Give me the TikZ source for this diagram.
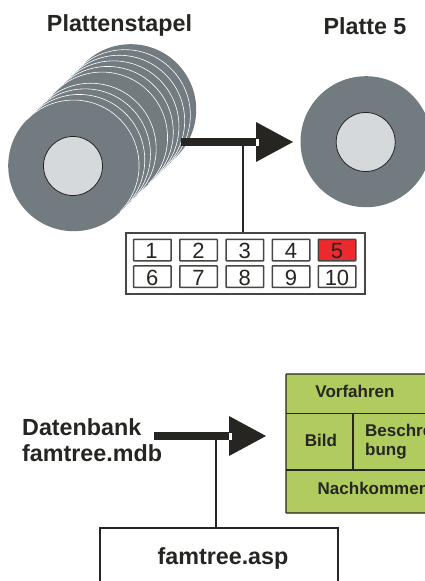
\documentclass[tikz,border=0pt]{standalone}
\usepackage{fontspec}
\setmainfont{Liberation Sans}
\definecolor{ink}{HTML}{262522}
\definecolor{diskgray}{HTML}{727B80}
\definecolor{hubgray}{HTML}{D5D9DB}
\definecolor{cellred}{HTML}{EC2A2E}
\definecolor{panelgreen}{HTML}{B0CB5E}
\tikzset{
  big/.style={font=\fontsize{23.3}{27.5}\selectfont\bfseries,text=ink,inner sep=0pt},
  small/.style={font=\fontsize{17}{19}\selectfont\bfseries,text=ink,inner sep=0pt},
  diskplain/.style={circle,fill=diskgray,minimum size=131pt,inner sep=0pt},
  hub/.style={circle,fill=hubgray,draw=ink,line width=0.8pt,minimum size=59pt,inner sep=0pt},
  cell/.style={draw=ink!85,line width=1.5pt,rounded corners=0.6pt,fill=white,minimum width=37.5pt,minimum height=21.5pt,inner sep=0pt},
  celltext/.style={anchor=base,text=ink,inner sep=0pt,font=\fontsize{22}{22}\selectfont},
  thickbar/.style={line width=8pt,draw=ink},
  thinbar/.style={line width=2pt,draw=ink},
  headfill/.style={fill=ink},
  panel/.style={draw=ink,line width=1.2pt,fill=panelgreen},
  rimline/.style={draw=white,line width=0.6pt}
}
\begin{document}
\begin{tikzpicture}[x=1pt,y=-1pt]
\useasboundingbox (0,0) rectangle (425,581);
\clip (0,0) rectangle (425,581);
% stack of disks
\foreach \i in {10,9,8,7,6,5,3,2,1,0}{
  \node[diskplain] (d\i) at ({73.7+5.7*\i},{165.7-5.6*\i}) {};
  \ifnum\i<10
    \draw[rimline] (d\i.135) arc[start angle=135,end angle=-45,radius=65.5pt];
  \fi
}
\node[hub] (fronthub) at (73,166) {};
\node[big,anchor=base] (t1) at (119.5,31.7) {Plattenstapel};
\node[big,anchor=base] (t2) at (365,34) {Platte 5};
% plate 5
\node[diskplain] (plate) at (366,141.7) {};
\node[hub] (platehub) at (365.7,142) {};
% upper arrow
\coordinate (a1s) at (181,142);
\coordinate (a1e) at (257,142);
\coordinate (a1j) at (243,142);
\draw[thickbar] (a1s) -- (a1e);
\fill[headfill] (256,122) -- (293,142) -- (256,162) -- cycle;
\fill[white] (256,138.5) rectangle (258.5,145.5);
% selector panel
\node[draw=ink!85,line width=1.4pt,fill=white,minimum width=239pt,minimum height=61pt,inner sep=0pt] (sel) at (245.5,263.5) {};
\draw[thinbar] (a1j) -- (a1j |- sel.north);
\node[cell] (c1) at (152.3,250) {};
\node[cell] (c2) at (198.5,250) {};
\node[cell] (c3) at (244.8,250) {};
\node[cell] (c4) at (291,250) {};
\node[cell,fill=cellred] (c5) at (337,250) {};
\node[cell] (c6) at (152.3,276.7) {};
\node[cell] (c7) at (198.5,276.7) {};
\node[cell] (c8) at (244.8,276.7) {};
\node[cell] (c9) at (291,276.7) {};
\node[cell] (c10) at (337,276.7) {};
\node[celltext] (n1) at (151.5,258.3) {1};
\node[celltext] (n2) at (198.5,258.3) {2};
\node[celltext] (n3) at (244.8,258.3) {3};
\node[celltext] (n4) at (291,258.3) {4};
\node[celltext] (n5) at (337,258.3) {5};
\node[celltext] (n6) at (152.3,285) {6};
\node[celltext] (n7) at (198.5,285) {7};
\node[celltext] (n8) at (244.8,285) {8};
\node[celltext] (n9) at (291,285) {9};
\node[celltext] (n10) at (337,285) {10};
% lower part
\node[big,anchor=base west] (db1) at (22,435.7) {Datenbank};
\node[big,anchor=base west] (db2) at (22,461.7) {famtree.mdb};
\coordinate (a2s) at (154,436);
\coordinate (a2e) at (230,436);
\coordinate (a2j) at (216,436);
\draw[thickbar] (a2s) -- (a2e);
\fill[headfill] (229,416) -- (266,436) -- (229,456) -- cycle;
\fill[white] (229,432.5) rectangle (231.5,439.5);
\node[draw=ink,line width=1.5pt,fill=white,minimum width=238pt,minimum height=80pt,inner sep=0pt] (asp) at (219,568) {};
\draw[thinbar] (a2j) -- (a2j |- asp.north);
\node[big,anchor=base] (asptxt) at (223,564) {famtree.asp};
% green panel
\draw[panel,rounded corners=0.6pt] (286,374) rectangle (440,513);
\draw[panel,fill=none] (286,413.5) -- (430,413.5);
\draw[panel,fill=none] (286,470) -- (430,470);
\draw[panel,fill=none] (353,413.5) -- (353,470);
\node[small,anchor=base] (vor) at (355,397.3) {Vorfahren};
\node[small,anchor=base] (bild) at (321,446.7) {Bild};
\node[small,anchor=base west] (besch) at (365,436.7) {Beschrei-};
\node[small,anchor=base west] (bung) at (365,455) {bung};
\node[small,anchor=base west] (nach) at (317.5,494) {Nachkommen};
\end{tikzpicture}
\end{document}
